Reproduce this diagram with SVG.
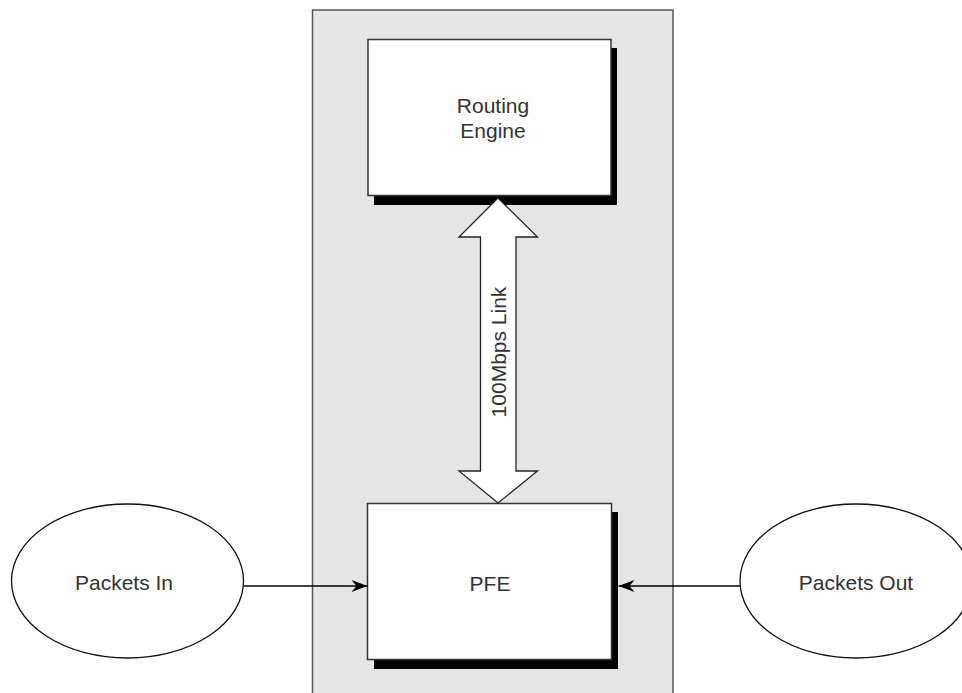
<svg xmlns="http://www.w3.org/2000/svg" width="962" height="693" viewBox="0 0 962 693">
<style>
.lbl{font-family:"Liberation Sans",Arial,sans-serif;font-size:21px;fill:#333;text-anchor:middle}
.box{fill:#fff;stroke:#333;stroke-width:1.5}
.shadow{fill:#000}
.ell{fill:#fff;stroke:#111;stroke-width:1.3}
.conn{stroke:#000;stroke-width:1.3;fill:none}
</style>
<defs>
<marker id="ah" markerUnits="userSpaceOnUse" markerWidth="18" markerHeight="14" viewBox="-17 -7 18 14" refX="0" refY="0" orient="auto">
<path d="M0,0 L-16,-6 L-11,0 L-16,6 Z" fill="#000"/>
</marker>
</defs>
<rect id="chassis" x="312.5" y="10" width="360.5" height="700" fill="#e5e5e5" stroke="#555" stroke-width="1.5"/>
<g id="routing-engine">
<rect class="shadow" x="374" y="48" width="243" height="157"/>
<rect class="box" x="368" y="39.5" width="243" height="156"/>
<text class="lbl" x="493" y="113">Routing</text>
<text class="lbl" x="493" y="138">Engine</text>
</g>
<g id="pfe">
<rect class="shadow" x="374" y="512" width="244" height="157"/>
<rect class="box" x="367.5" y="503.5" width="244" height="156"/>
<text class="lbl" x="490" y="591">PFE</text>
</g>
<g id="packets-in">
<ellipse class="ell" cx="127.5" cy="581" rx="116" ry="77"/>
<text class="lbl" x="124" y="590">Packets In</text>
</g>
<g id="packets-out">
<ellipse class="ell" cx="856" cy="581" rx="116" ry="77"/>
<text class="lbl" x="856" y="590">Packets Out</text>
</g>
<g id="connectors">
<g id="link">
<polygon points="498,198 537.5,237 516,237 516,471 537.5,471 498,503 459,471 480.5,471 480.5,237 459,237" fill="#fff" stroke="#222" stroke-width="1.3" stroke-linejoin="miter"/>
<text class="lbl" transform="translate(505.5,352) rotate(-90)" x="0" y="0">100Mbps Link</text>
</g>
<line class="conn" x1="243.5" y1="586" x2="367.5" y2="586" marker-end="url(#ah)"/>
<line class="conn" x1="740" y1="586" x2="618.5" y2="586" marker-end="url(#ah)"/>
</g>
</svg>
